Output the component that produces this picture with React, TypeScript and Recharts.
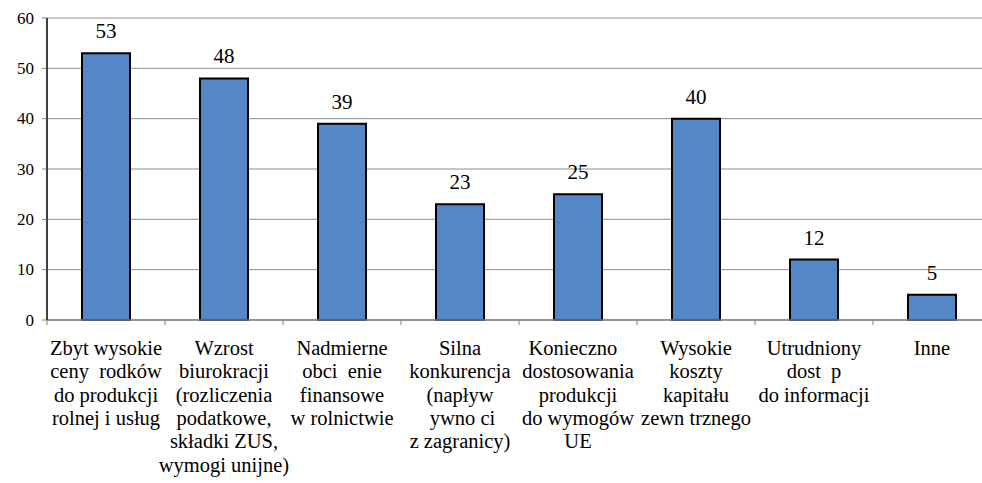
import React from "react";
import { BarChart, Bar, XAxis, YAxis, CartesianGrid, LabelList } from "recharts";

const categories: string[] = [
  "Zbyt wysokie\nceny\u00A0\u00A0rodków\ndo produkcji\nrolnej i usług",
  "Wzrost\nbiurokracji\n(rozliczenia\npodatkowe,\nskładki ZUS,\nwymogi unijne)",
  "Nadmierne\nobci\u00A0\u00A0enie\nfinansowe\nw rolnictwie",
  "Silna\nkonkurencja\n(napływ\n\u00A0ywno\u00A0ci\nz zagranicy)",
  "Konieczno\u00A0\u00A0\ndostosowania\nprodukcji\ndo wymogów\nUE",
  "Wysokie\nkoszty\nkapitału\nzewn\u00A0trznego",
  "Utrudniony\ndost\u00A0\u00A0p\ndo informacji",
  "Inne",
];
const values: number[] = [53, 48, 39, 23, 25, 40, 12, 5];
const yTicks: number[] = [0, 10, 20, 30, 40, 50, 60];

const data = categories.map((c, i) => ({ name: c, value: values[i] }));

const FONT = "Liberation Serif, Times New Roman, serif";
const HALF_BAND = 59;
const LINE_H = 23.3;

const YTick = (props: any) => {
  const { x, y, payload } = props;
  return (
    <text
      x={x - 8}
      y={y}
      textAnchor="end"
      dominantBaseline="central"
      fontFamily={FONT}
      fontSize={17}
      fill="#000"
    >
      {payload.value}
    </text>
  );
};

const XTick = (props: any) => {
  const { x, y, payload, index } = props;
  const lines = String(payload.value).split("\n");
  return (
    <g>
      {index === 0 && (
        <line x1={x - HALF_BAND} x2={x - HALF_BAND} y1={y - 5} y2={y} stroke="#808080" strokeWidth={1} />
      )}
      <line x1={x + HALF_BAND} x2={x + HALF_BAND} y1={y - 5} y2={y} stroke="#808080" strokeWidth={1} />
      {lines.map((ln, i) => (
        <text
          key={i}
          x={x}
          y={y + 30 + i * LINE_H}
          textAnchor="middle"
          fontFamily={FONT}
          fontSize={20.5}
          fill="#000"
        >
          {ln}
        </text>
      ))}
    </g>
  );
};

const ValueLabel = (props: any) => {
  const { x, y, width, value } = props;
  return (
    <text x={x + width / 2} y={y - 15} textAnchor="middle" fontFamily={FONT} fontSize={21} fill="#000">
      {value}
    </text>
  );
};

export default function App() {
  return (
    <div
      style={{
        position: "absolute",
        left: 0,
        top: 0,
        width: 982,
        height: 483,
        overflow: "hidden",
        background: "#fff",
      }}
    >
      <BarChart
        width={1000}
        height={483}
        data={data}
        margin={{ top: 18, right: 9, left: 0, bottom: 0 }}
        barSize={48}
      >
        <CartesianGrid horizontal={true} vertical={false} stroke="#8c8c8c" strokeWidth={1} />
        <XAxis
          dataKey="name"
          interval={0}
          tick={<XTick />}
          tickLine={false}
          tickSize={5}
          tickMargin={0}
          height={163}
          axisLine={{ stroke: "#808080", strokeWidth: 1.5 }}
        />
        <YAxis
          width={47}
          domain={[0, 60]}
          ticks={yTicks}
          interval={0}
          tick={<YTick />}
          tickSize={5}
          tickMargin={0}
          tickLine={{ stroke: "#808080" }}
          axisLine={{ stroke: "#000", strokeWidth: 1.5 }}
        />
        <Bar dataKey="value" fill="#5586C6" stroke="#000" strokeWidth={2} isAnimationActive={false}>
          <LabelList dataKey="value" content={<ValueLabel />} />
        </Bar>
      </BarChart>
    </div>
  );
}
